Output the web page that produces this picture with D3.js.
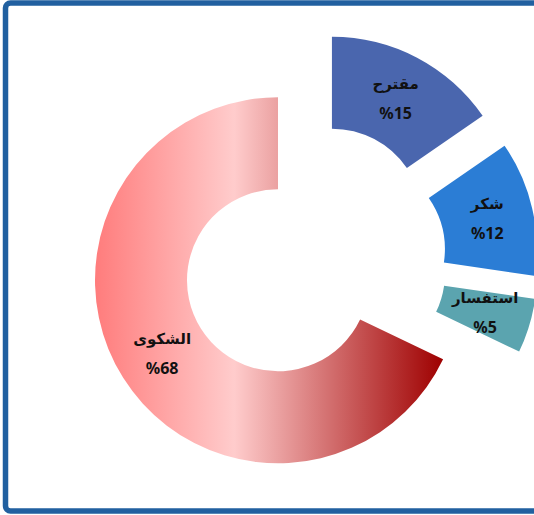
<!DOCTYPE html>
<html>
<head>
<meta charset="utf-8">
<script src="https://cdn.jsdelivr.net/npm/d3@7"></script>
<style>
  html, body { margin: 0; padding: 0; background: #ffffff; }
  svg { display: block; }
</style>
</head>
<body>
<svg id="chart" width="534" height="515"></svg>
<script>
// Data
const categories = ["مقترح", "شكر", "استفسار", "الشكوى"];
const values = [15.4, 11.9, 4.8, 67.9];
const colors = ["#4A66AE", "#2B7DD5", "#5BA4AF", "url(#redGrad)"];

const W = 534, H = 515;
const svg = d3.select("#chart");

// frame
svg.append("rect")
  .attr("x", 5.5).attr("y", 3)
  .attr("width", 560).attr("height", 508)
  .attr("rx", 5).attr("ry", 5)
  .attr("fill", "#ffffff")
  .attr("stroke", "#2160A0")
  .attr("stroke-width", 5.5);

// gradient for the large slice
const defs = svg.append("defs");
const grad = defs.append("linearGradient")
  .attr("id", "redGrad")
  .attr("x1", "0").attr("y1", "0").attr("x2", "1").attr("y2", "0");
grad.append("stop").attr("offset", "0").attr("stop-color", "#FF7C7C");
grad.append("stop").attr("offset", "0.40").attr("stop-color", "#FFCCCC");
grad.append("stop").attr("offset", "1").attr("stop-color", "#9E0000");

const cx = 311, cy = 259.5;
const outerR = 183, innerR = 91;
const explode = [45, 44, 45, 39];

const pie = d3.pie().sort(null).value(d => d)
  .startAngle(0).endAngle(2 * Math.PI);
const arcs = pie(values);
const arc = d3.arc().innerRadius(innerR).outerRadius(outerR);
const labelArc = d3.arc().innerRadius((innerR + outerR) / 2).outerRadius((innerR + outerR) / 2);

const g = svg.append("g").attr("transform", `translate(${cx},${cy})`);

const slices = g.selectAll("g.slice")
  .data(arcs)
  .enter().append("g")
  .attr("class", "slice")
  .attr("transform", (d, i) => {
    const mid = (d.startAngle + d.endAngle) / 2;
    const dx = Math.sin(mid) * explode[i];
    const dy = -Math.cos(mid) * explode[i];
    return `translate(${dx},${dy})`;
  });

slices.append("path")
  .attr("d", arc)
  .attr("fill", (d, i) => colors[i]);

const font = "'Noto Sans', 'DejaVu Sans', sans-serif";

slices.each(function(d, i) {
  const [lx, ly] = labelArc.centroid(d);
  const sel = d3.select(this);
  sel.append("text")
    .attr("x", lx).attr("y", ly - 15)
    .attr("text-anchor", "middle")
    .attr("dominant-baseline", "central")
    .attr("font-family", font)
    .attr("font-weight", "bold")
    .attr("font-size", 15)
    .attr("fill", "#111111")
    .attr("direction", "rtl")
    .text(categories[i]);
  sel.append("text")
    .attr("x", lx).attr("y", ly + 15)
    .attr("text-anchor", "middle")
    .attr("dominant-baseline", "central")
    .attr("font-family", font)
    .attr("font-weight", "bold")
    .attr("font-size", 16)
    .attr("fill", "#111111")
    .text("%" + Math.round(values[i]));
});
</script>
</body>
</html>
